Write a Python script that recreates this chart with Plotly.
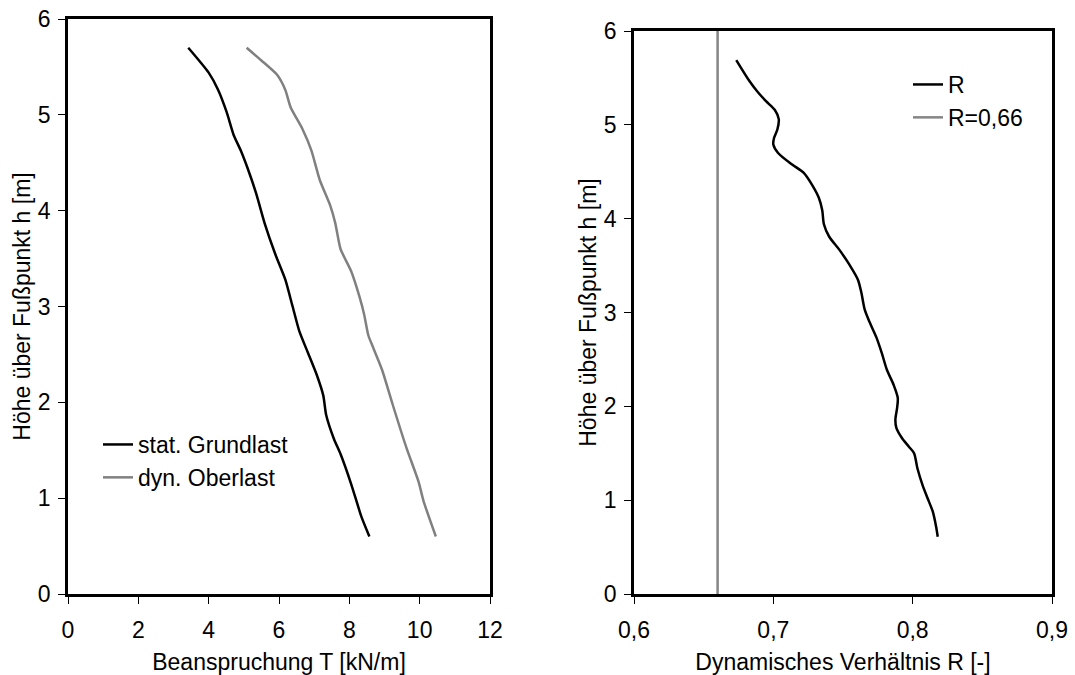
import plotly.graph_objects as go

# Left chart: load T [kN/m] vs height h [m]
h_stat = [5.70, 5.44, 5.26, 5.03, 4.79, 4.63, 4.45, 4.18, 3.87, 3.55, 3.28, 3.01, 2.74, 2.52,
          2.29, 2.07, 1.87, 1.62, 1.46, 1.15, 0.81, 0.60]
T_stat = [3.42, 4.00, 4.27, 4.51, 4.71, 4.91, 5.10, 5.35, 5.59, 5.89, 6.18, 6.38, 6.58, 6.82,
          7.07, 7.26, 7.34, 7.56, 7.75, 8.05, 8.34, 8.57]

h_dyn = [5.70, 5.57, 5.42, 5.26, 5.08, 4.85, 4.63, 4.32, 4.05, 3.87, 3.60, 3.37, 3.10, 2.92,
         2.70, 2.56, 2.34, 1.98, 1.53, 1.17, 0.97, 0.60]
T_dyn = [5.08, 5.49, 5.94, 6.18, 6.33, 6.67, 6.92, 7.16, 7.46, 7.60, 7.75, 8.05, 8.29, 8.42,
         8.54, 8.69, 8.93, 9.23, 9.62, 9.97, 10.11, 10.46]

# Right chart: dynamic ratio R vs height h
h_R = [5.69, 5.47, 5.35, 5.25, 5.16, 5.06, 4.95, 4.86, 4.79, 4.70, 4.58, 4.49, 4.36, 4.22,
       4.09, 3.94, 3.81, 3.67, 3.51, 3.35, 3.21, 3.03, 2.89, 2.73, 2.57, 2.39, 2.23, 2.09,
       1.98, 1.86, 1.77, 1.66, 1.57, 1.50, 1.34, 1.16, 1.02, 0.88, 0.72, 0.61]
R_vals = [0.6734, 0.6827, 0.6888, 0.6949, 0.7010, 0.7039, 0.7029, 0.7005, 0.7000, 0.7034,
          0.7132, 0.7217, 0.7278, 0.7327, 0.7351, 0.7363, 0.7400, 0.7473, 0.7546, 0.7607,
          0.7632, 0.7656, 0.7693, 0.7741, 0.7778, 0.7815, 0.7863, 0.7893, 0.7888, 0.7876,
          0.7883, 0.7924, 0.7973, 0.8010, 0.8034, 0.8071, 0.8107, 0.8144, 0.8168, 0.8180]

R_ref_x = [0.66, 0.66]
R_ref_h = [0, 6]

FONT = "Liberation Sans, Arial, sans-serif"
FS = 23

fig = go.Figure()
fig.add_trace(go.Scatter(x=T_stat, y=h_stat, mode="lines", name="stat. Grundlast",
                         line=dict(color="black", width=2.5, shape="spline", smoothing=0.6),
                         xaxis="x", yaxis="y", legend="legend", legendgroup="a"))
fig.add_trace(go.Scatter(x=T_dyn, y=h_dyn, mode="lines", name="dyn. Oberlast",
                         line=dict(color="#808080", width=2.5, shape="spline", smoothing=0.6),
                         xaxis="x", yaxis="y", legend="legend", legendgroup="b"))
fig.add_trace(go.Scatter(x=R_vals, y=h_R, mode="lines", name="R",
                         line=dict(color="black", width=2.5, shape="spline", smoothing=0.8),
                         xaxis="x2", yaxis="y2", legend="legend2", legendgroup="c"))
fig.add_trace(go.Scatter(x=R_ref_x, y=R_ref_h, mode="lines", name="R=0,66",
                         line=dict(color="#858585", width=2.5),
                         xaxis="x2", yaxis="y2", legend="legend2", legendgroup="d"))

ax_common = dict(showline=True, linecolor="black", linewidth=2.5, mirror=True,
                 ticks="outside", ticklen=7, tickwidth=1, tickcolor="black",
                 showgrid=False, zeroline=False, automargin=False,
                 tickfont=dict(family=FONT, size=FS, color="black"))

fig.update_layout(
    width=1075, height=675,
    margin=dict(l=0, r=0, t=0, b=0, autoexpand=False),
    paper_bgcolor="white", plot_bgcolor="white",
    separators=",.",
    font=dict(family=FONT, size=FS, color="black"),
    xaxis=dict(domain=[68/1075, 490/1075], range=[0, 12], dtick=2, anchor="y",
               ticklabelstandoff=7,
               title=dict(text="Beanspruchung T [kN/m]", standoff=24,
                          font=dict(family=FONT, size=FS)), **ax_common),
    yaxis=dict(domain=[1-594/675, 1-19/675], range=[0, 6], dtick=1, anchor="x",
               ticklabelstandoff=3,
               title=dict(text="Höhe über Fußpunkt h [m]", standoff=1,
                          font=dict(family=FONT, size=FS)), **ax_common),
    xaxis2=dict(domain=[634/1075, 1052/1075], range=[0.6, 0.9], dtick=0.1, tickformat=".1f",
                anchor="y2", ticklabelstandoff=7,
                title=dict(text="Dynamisches Verhältnis R [-]", standoff=24,
                           font=dict(family=FONT, size=FS)), **ax_common),
    yaxis2=dict(domain=[1-594/675, 1-31/675], range=[0, 6], dtick=1, anchor="x2",
                ticklabelstandoff=3,
                title=dict(text="Höhe über Fußpunkt h [m]", standoff=1,
                           font=dict(family=FONT, size=FS)), **ax_common),
    legend=dict(x=98/1075, y=1-423/675, xanchor="left", yanchor="top",
                bgcolor="rgba(0,0,0,0)", font=dict(family=FONT, size=FS),
                traceorder="grouped", tracegroupgap=0, itemwidth=30),
    legend2=dict(x=908/1075, y=1-63/675, xanchor="left", yanchor="top",
                 bgcolor="rgba(0,0,0,0)", font=dict(family=FONT, size=FS),
                 traceorder="grouped", tracegroupgap=0, itemwidth=30),
)

fig.write_html("out.html")
